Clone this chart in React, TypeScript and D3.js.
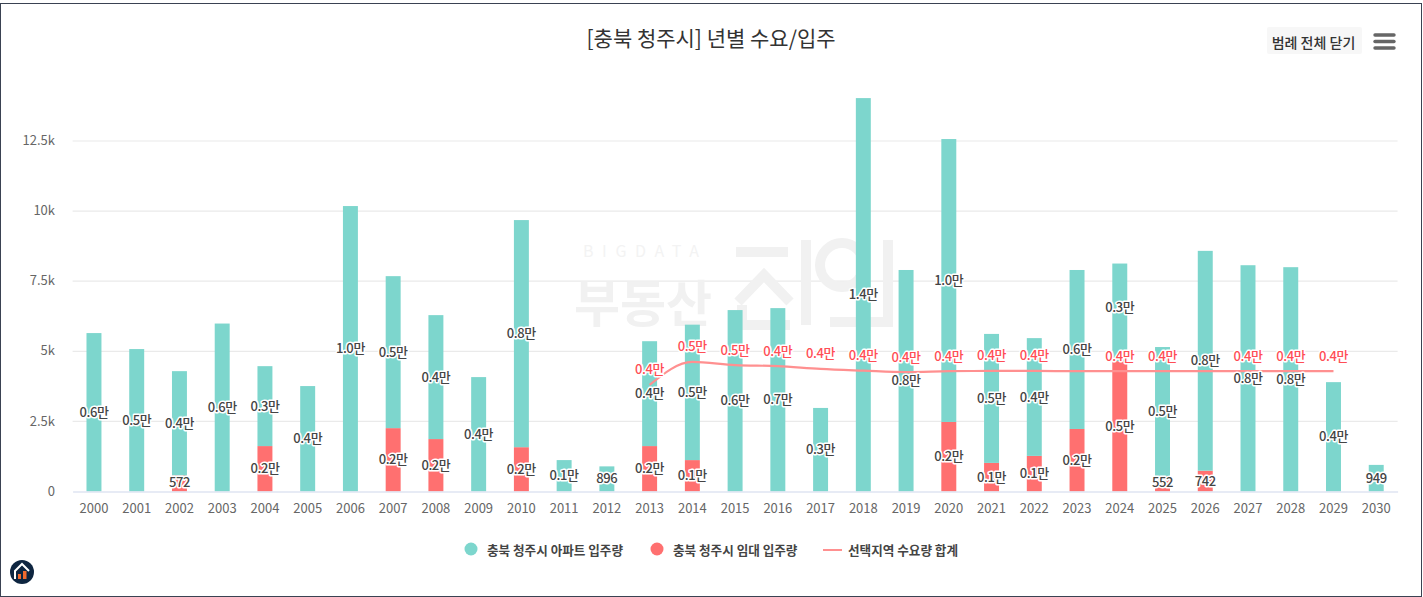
import React, { useEffect, useRef } from 'react';
import * as d3 from 'd3';

const years = d3.range(2000, 2031).map(String);

// 아파트 입주량
const aptValues = [5650, 5080, 3720, 5990, 2850, 3760, 10180, 5420, 4420, 4080, 8100, 1120, 896, 3740, 4830, 6470, 6540, 2980, 14030, 7900, 10090, 4600, 4200, 5670, 3480, 4600, 7840, 8070, 8000, 3900, 949];
// 임대 입주량
const rentValues = [0, 0, 572, 0, 1620, 0, 0, 2260, 1870, 0, 1580, 0, 0, 1620, 1120, 0, 0, 0, 0, 0, 2480, 1020, 1270, 2230, 4650, 552, 742, 0, 0, 0, 0];
// 수요량 합계 (2013 ~ 2029)
const demandYears = d3.range(2013, 2030).map(String);
const demandValues = [3800, 4620, 4510, 4470, 4370, 4310, 4260, 4290, 4300, 4300, 4290, 4290, 4290, 4290, 4290, 4290, 4290];

const yTicks = [0, 2500, 5000, 7500, 10000, 12500];
const yTickLabels = ['0', '2.5k', '5k', '7.5k', '10k', '12.5k'];

const legendApt = '충북 청주시 아파트 입주량';
const legendRent = '충북 청주시 임대 입주량';
const legendDemand = '선택지역 수요량 합계';

const FONT = '"Noto Sans CJK KR", "Noto Sans", sans-serif';
const TEAL = '#7dd6cd';
const RED = '#ff7070';

const fmt = (v: number) => (v >= 1000 ? `${(v / 10000).toFixed(1)}만` : String(v));

const App: React.FC = () => {
  const ref = useRef<SVGSVGElement>(null);

  useEffect(() => {
    if (!ref.current) return;
    const svg = d3.select(ref.current);
    svg.selectAll('*').remove();
    svg.style('font-family', FONT);

    const x = d3.scaleBand<string>().domain(years).range([72.6, 1397.6]).paddingInner(0.65).paddingOuter(0.325);
    const y = d3.scaleLinear().domain([0, 12500]).range([491.5, 141]);

    svg.append('rect').attr('x', 0.5).attr('y', 3.5).attr('width', 1421).attr('height', 593)
      .attr('fill', '#fff').attr('stroke', '#3a4252');

    // grid
    svg.append('g').selectAll('line').data(yTicks.slice(1)).enter().append('line')
      .attr('x1', 72.6).attr('x2', 1397.6)
      .attr('y1', d => y(d)).attr('y2', d => y(d))
      .attr('stroke', '#eaeaea').attr('stroke-width', 1.2);

    // watermark
    const wm = svg.append('g').attr('fill', '#f1f1f1').attr('stroke', 'none');
    wm.append('text').attr('x', 583).attr('y', 257).attr('font-size', 16)
      .attr('letter-spacing', 8.6).attr('fill', '#f3f3f3').text('BIGDATA');
    wm.append('text').attr('x', 574).attr('y', 322).attr('font-size', 50).attr('font-weight', 700).text('부동산');
    const wmLines = wm.append('g').attr('fill', 'none').attr('stroke', '#f1f1f1').attr('stroke-width', 10);
    wmLines.append('path').attr('d', 'M736 252H788');
    wmLines.append('path').attr('d', 'M738 302L764 275L790 302M742 305V325H790');
    wmLines.append('path').attr('d', 'M806 240V325');
    wmLines.append('circle').attr('cx', 842).attr('cy', 265).attr('r', 22);
    wmLines.append('path').attr('d', 'M888 240V322H830');

    // stacked bars
    const rows = years.map((year, i) => ({ year, rent: rentValues[i], apt: aptValues[i] }));
    const series = d3.stack<{ year: string; rent: number; apt: number }>().keys(['rent', 'apt'])(rows);
    const colors = [RED, TEAL];

    series.forEach((s, si) => {
      svg.append('g').selectAll('rect').data(s.filter(d => d[1] > d[0])).enter().append('rect')
        .attr('x', d => x(d.data.year)!)
        .attr('width', x.bandwidth())
        .attr('y', d => y(d[1]))
        .attr('height', d => y(d[0]) - y(d[1]))
        .attr('fill', colors[si]);
    });

    // x axis
    const xAxis = svg.append('g').attr('transform', 'translate(0,491.5)')
      .call(d3.axisBottom(x).tickSize(0).tickPadding(12));
    xAxis.select('.domain').attr('stroke', '#dfe5f2').attr('stroke-width', 1.5);
    xAxis.selectAll('text').attr('font-size', 13).attr('fill', '#666').attr('font-family', FONT);

    // y axis
    const yAxis = svg.append('g').attr('transform', 'translate(55,-0.5)')
      .call(d3.axisLeft(y).tickValues(yTicks).tickSize(0).tickPadding(0)
        .tickFormat((_, i) => yTickLabels[i]));
    yAxis.select('.domain').remove();
    yAxis.selectAll('text').attr('font-size', 13).attr('fill', '#666').attr('font-family', FONT);

    // demand line
    const cx = (yr: string) => x(yr)! + x.bandwidth() / 2;
    const line = d3.line<number>()
      .x((_, i) => cx(demandYears[i]))
      .y(d => y(d))
      .curve(d3.curveMonotoneX);
    svg.append('path').datum(demandValues).attr('d', line)
      .attr('fill', 'none').attr('stroke', '#ff9090').attr('stroke-width', 2.2);

    // data labels
    const addLabel = (g: d3.Selection<SVGGElement, unknown, null, undefined>, px: number, py: number, t: string, fill: string) => {
      g.append('text').attr('x', px).attr('y', py)
        .attr('text-anchor', 'middle').attr('dominant-baseline', 'central')
        .attr('font-size', 13).attr('font-weight', 500).attr('letter-spacing', -0.4)
        .attr('fill', fill).attr('stroke', '#fff').attr('stroke-width', 3)
        .attr('paint-order', 'stroke').attr('stroke-linejoin', 'round').text(t);
    };
    const labels = svg.append('g');
    const placed: { year: string; py: number }[] = [];
    series.forEach(s => {
      s.filter(d => d[1] > d[0]).forEach(d => {
        let py = Math.min((y(d[0]) + y(d[1])) / 2 - 1, y(0) - 10.5);
        // 2024 아파트 라벨은 원본에서 조금 위에 있음
        if (d.data.year === '2024' && s.key === 'apt') py -= 5;
        placed.push({ year: d.data.year, py });
        addLabel(labels, cx(d.data.year), py, fmt(d[1] - d[0]), '#444');
      });
    });
    demandValues.forEach((v, i) => {
      const py = y(v) - 16;
      // hide when it would collide with a bar label of the same year
      if (placed.some(p => p.year === demandYears[i] && Math.abs(p.py - py) < 14)) return;
      addLabel(labels, cx(demandYears[i]), py, fmt(v), '#ff4d55');
    });

    // title
    svg.append('text').attr('x', 711).attr('y', 36.5).attr('text-anchor', 'middle')
      .attr('dominant-baseline', 'central').attr('font-size', 21).attr('fill', '#333')
      .text('[충북 청주시] 년별 수요/입주');

    // legend
    const legend = svg.append('g').attr('font-size', 12.6).attr('font-weight', 700).attr('fill', '#444');
    legend.append('circle').attr('cx', 471).attr('cy', 549).attr('r', 6.5).attr('fill', TEAL);
    legend.append('text').attr('x', 487).attr('y', 549).attr('dominant-baseline', 'central').text(legendApt);
    legend.append('circle').attr('cx', 657).attr('cy', 549).attr('r', 6.5).attr('fill', RED);
    legend.append('text').attr('x', 673).attr('y', 549).attr('dominant-baseline', 'central').text(legendRent);
    legend.append('line').attr('x1', 823).attr('x2', 842).attr('y1', 550).attr('y2', 550)
      .attr('stroke', '#ff9090').attr('stroke-width', 2);
    legend.append('text').attr('x', 848).attr('y', 549).attr('dominant-baseline', 'central').text(legendDemand);

    // legend toggle button + menu
    svg.append('rect').attr('x', 1267).attr('y', 27).attr('width', 95).attr('height', 27).attr('rx', 2).attr('fill', '#f7f7f7');
    svg.append('text').attr('x', 1313.5).attr('y', 41.5).attr('text-anchor', 'middle').attr('dominant-baseline', 'central')
      .attr('font-size', 14).attr('font-weight', 500).attr('fill', '#333').text('범례 전체 닫기');
    svg.append('g').selectAll('line').data([35, 41.5, 48]).enter().append('line')
      .attr('x1', 1375).attr('x2', 1394).attr('y1', d => d).attr('y2', d => d)
      .attr('stroke', '#666').attr('stroke-width', 3.4).attr('stroke-linecap', 'round');

    // corner logo
    const logo = svg.append('g').attr('transform', 'translate(22,572)');
    logo.append('circle').attr('r', 12).attr('fill', '#0e2540');
    logo.append('path').attr('d', 'M-7 7V-1L0 -8L7 -1').attr('fill', 'none').attr('stroke', '#fff').attr('stroke-width', 2);
    logo.append('rect').attr('x', -4).attr('y', 2).attr('width', 3).attr('height', 5).attr('fill', '#f26a2e');
    logo.append('rect').attr('x', 1).attr('y', -1).attr('width', 3.5).attr('height', 8).attr('fill', '#f26a2e');
  }, []);

  return (
    <svg
      ref={ref}
      width={1423}
      height={597}
      style={{ position: 'absolute', left: 0, top: 0, display: 'block' }}
    />
  );
};

export default App;
